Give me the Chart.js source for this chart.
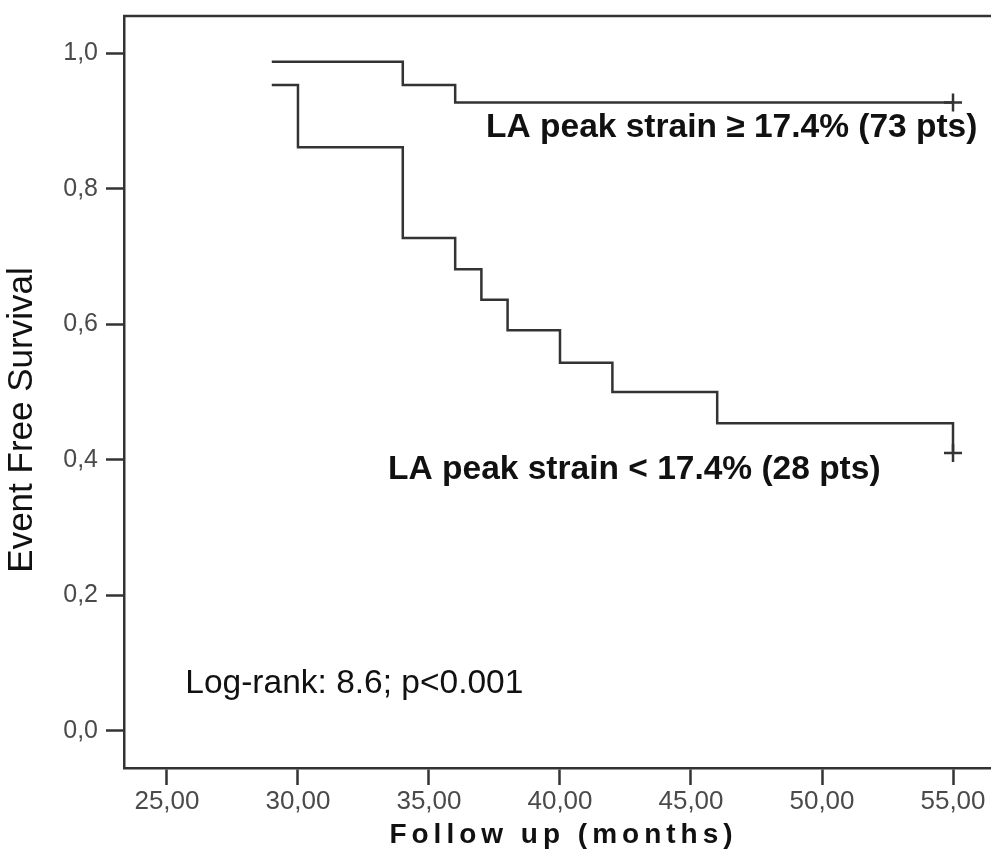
<!DOCTYPE html>
<html>
<head>
<meta charset="utf-8">
<script src="https://cdn.jsdelivr.net/npm/chart.js@4.4.1/dist/chart.umd.min.js"></script>
<style>
  html, body { margin: 0; padding: 0; background: #ffffff; overflow: hidden; }
  #wrap { position: relative; width: 991px; height: 857px; }
</style>
</head>
<body>
<div id="wrap"><canvas id="c" width="991" height="857"></canvas></div>
<script>
// ---- data ----
const timesHigh = [29, 34, 36, 55];
const survivalHigh = [0.987, 0.953, 0.927, 0.927];
const timesLow = [29, 30, 34, 36, 37, 38, 40, 42, 46, 55];
const survivalLow = [0.953, 0.861, 0.727, 0.681, 0.636, 0.591, 0.543, 0.500, 0.454, 0.410];
const xTickValues = [25, 30, 35, 40, 45, 50, 55];
const yTickValues = [0, 0.2, 0.4, 0.6, 0.8, 1.0];
const labelHigh = 'LA peak strain \u2265 17.4% (73 pts)';
const labelLow = 'LA peak strain < 17.4% (28 pts)';
const labelLogRank = 'Log-rank: 8.6; p<0.001';
const xTitle = 'Follow up (months)';
const yTitle = 'Event Free Survival';

const toPoints = (xs, ys) => xs.map((x, i) => ({ x: x, y: ys[i] }));
const LINE = '#333333';
const FONT = "'Liberation Sans', Arial, sans-serif";

const lastOnly = (ctx) => ctx.dataIndex === ctx.dataset.data.length - 1 ? 9 : 0;

function patchTitle(scale, spacing, dx, dy) {
  if (!scale || scale._titlePatched) return;
  const orig = scale.drawTitle;
  scale.drawTitle = function () {
    const c = this.ctx;
    c.save();
    c.letterSpacing = spacing;
    c.translate(dx, dy);
    orig.apply(this, arguments);
    c.restore();
  };
  scale._titlePatched = true;
}

const framePlugin = {
  id: 'frame',
  beforeDraw(chart) {
    patchTitle(chart.scales.x, '5px', 6, 0);
    patchTitle(chart.scales.y, '0px', 0, 28);
  },
  afterDraw(chart) {
    const { ctx, chartArea } = chart;
    ctx.save();
    ctx.strokeStyle = LINE;
    ctx.lineWidth = 2.5;
    ctx.beginPath();
    ctx.moveTo(chartArea.left - 1, chartArea.top);
    ctx.lineTo(chartArea.right, chartArea.top);
    ctx.stroke();
    ctx.restore();
  }
};

const textPlugin = {
  id: 'notes',
  afterDatasetsDraw(chart, args, opts) {
    const { ctx } = chart;
    const xs = chart.scales.x, ys = chart.scales.y;
    ctx.save();
    ctx.fillStyle = '#111111';
    ctx.textAlign = 'left';
    ctx.textBaseline = 'alphabetic';
    opts.items.forEach(it => {
      ctx.font = it.font;
      ctx.fillText(it.text, xs.getPixelForValue(it.x), ys.getPixelForValue(it.y));
    });
    ctx.restore();
  }
};

new Chart(document.getElementById('c'), {
  type: 'line',
  data: {
    datasets: [
      {
        label: labelHigh,
        data: toPoints(timesHigh, survivalHigh),
        stepped: 'before',
        borderColor: LINE,
        borderWidth: 2.5,
        fill: false,
        clip: false,
        pointStyle: 'cross',
        pointRadius: lastOnly,
        pointBorderColor: LINE,
        pointBorderWidth: 2.5,
        pointHoverRadius: 0
      },
      {
        label: labelLow,
        data: toPoints(timesLow, survivalLow),
        stepped: 'before',
        borderColor: LINE,
        borderWidth: 2.5,
        fill: false,
        clip: false,
        pointStyle: 'cross',
        pointRadius: lastOnly,
        pointBorderColor: LINE,
        pointBorderWidth: 2.5,
        pointHoverRadius: 0
      }
    ]
  },
  options: {
    responsive: false,
    animation: false,
    events: [],
    layout: { autoPadding: false, padding: { top: 16, right: 0, bottom: 0, left: 0 } },
    plugins: {
      legend: { display: false },
      tooltip: { enabled: false },
      notes: {
        items: [
          { text: labelHigh, x: 37.18, y: 0.876, font: "bold 33.5px " + FONT },
          { text: labelLow, x: 33.44, y: 0.372, font: "bold 33.5px " + FONT },
          { text: labelLogRank, x: 25.70, y: 0.056, font: "33.5px " + FONT }
        ]
      }
    },
    scales: {
      x: {
        type: 'linear',
        min: 23.36,
        max: 56.45,
        afterBuildTicks: (scale) => { scale.ticks = xTickValues.map(v => ({ value: v })); },
        afterFit: (scale) => {
          scale.height = 89;
          scale.paddingLeft = 0;
          scale.paddingRight = 0;
        },
        ticks: {
          autoSkip: false,
          maxRotation: 0,
          padding: 1,
          color: '#4a4a4a',
          font: { family: FONT, size: 26 },
          callback: (v) => Number(v).toFixed(2).replace('.', ',')
        },
        grid: {
          drawOnChartArea: false,
          drawTicks: true,
          tickLength: 17,
          tickWidth: 2.5,
          tickColor: LINE
        },
        border: { display: true, color: LINE, width: 2.5 },
        title: {
          display: true,
          text: xTitle,
          color: '#111111',
          font: { family: FONT, size: 28, weight: 'bold' },
          padding: { top: 0, bottom: 5 }
        }
      },
      y: {
        type: 'linear',
        min: -0.0546,
        max: 1.0546,
        afterBuildTicks: (scale) => { scale.ticks = yTickValues.map(v => ({ value: v })); },
        afterFit: (scale) => {
          scale.width = 124;
          scale.paddingTop = 0;
          scale.paddingBottom = 0;
        },
        ticks: {
          autoSkip: false,
          padding: 8,
          color: '#4a4a4a',
          font: { family: FONT, size: 25 },
          callback: (v) => Number(v).toFixed(1).replace('.', ',')
        },
        grid: {
          drawOnChartArea: false,
          drawTicks: true,
          tickLength: 18,
          tickWidth: 2.5,
          tickColor: LINE
        },
        border: { display: true, color: LINE, width: 2.5 },
        title: {
          display: true,
          text: yTitle,
          color: '#111111',
          font: { family: FONT, size: 35 },
          padding: { top: 1, bottom: 0 }
        }
      }
    }
  },
  plugins: [framePlugin, textPlugin]
});
</script>
</body>
</html>
